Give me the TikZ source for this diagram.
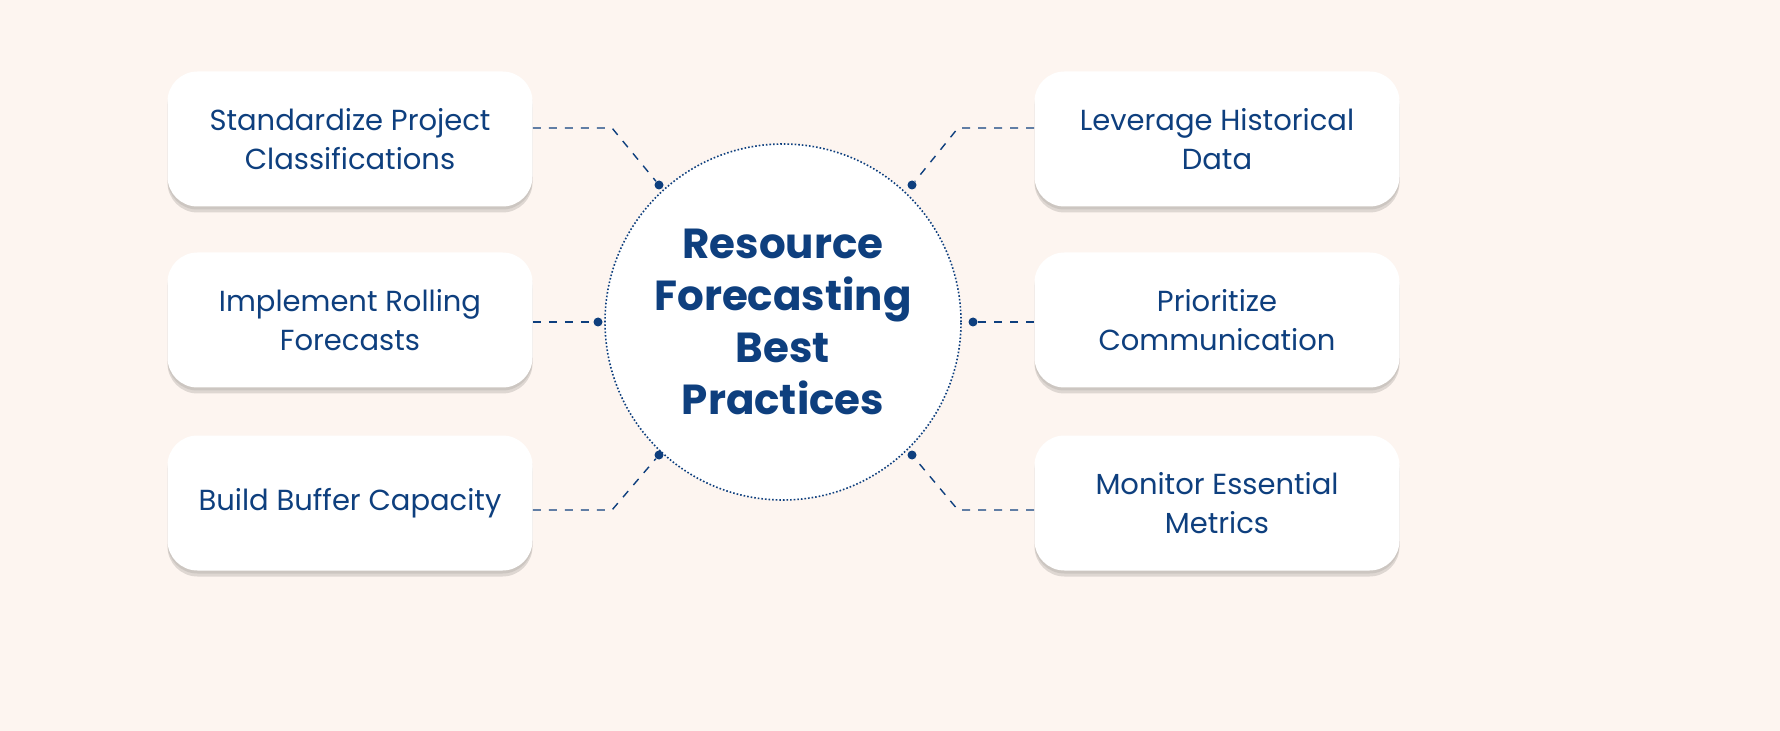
\documentclass[tikz,border=0pt]{standalone}
\usepackage{fontspec}
\setmainfont{Poppins}
\definecolor{colorbg}{HTML}{FDF5F0}
\definecolor{colortext}{HTML}{0E3F7E}
\tikzset{
  itembox/.style={draw=none, fill=white, rounded corners=15pt, minimum width=182.5pt,
    minimum height=67.5pt, align=center, text=colortext, font=\fontsize{14.5}{19.5}\selectfont,
    preaction={fill=black, opacity=0.12, transform canvas={yshift=-3pt}},
    preaction={fill=black, opacity=0.08, transform canvas={yshift=-1.5pt}}},
  link/.style={dashed, dash pattern=on 4pt off 4pt, colortext, line width=0.7pt},
  dot/.style={circle, fill=colortext, inner sep=0pt, minimum size=4.5pt}
}
\begin{document}
\begin{tikzpicture}[x=0.5pt,y=-0.5pt]
  \fill[colorbg] (0,0) rectangle (1780,731);
  \useasboundingbox (0,0) rectangle (1780,731);
  % Centre circle
  \node[circle, draw=colortext, densely dotted, line width=0.8pt, fill=white, minimum size=178pt,
    align=center, text=colortext, font=\fontsize{21}{26}\bfseries\selectfont] (C) at (783,322)
    {Resource\\Forecasting\\Best\\Practices};
  % Boxes
  \node[itembox] (S) at (350,139) {Standardize Project\\Classifications};
  \node[itembox] (I) at (350,320) {Implement Rolling\\Forecasts};
  \node[itembox] (B) at (350,503) {Build Buffer Capacity};
  \node[itembox] (L) at (1217,139) {Leverage Historical\\Data};
  \node[itembox] (P) at (1217,320) {Prioritize\\Communication};
  \node[itembox] (M) at (1217,503) {Monitor Essential\\Metrics};
  % Dots
  \node[dot] (dS) at (659,185) {};
  \node[dot] (dI) at (598,322) {};
  \node[dot] (dB) at (659,455) {};
  \node[dot] (dL) at (912,185) {};
  \node[dot] (dP) at (973,322) {};
  \node[dot] (dM) at (912,455) {};
  % Connectors
  \coordinate (kS) at (612,128);
  \coordinate (kB) at (612,510);
  \coordinate (kL) at (958,128);
  \coordinate (kM) at (958,510);
  \draw[link] (S.east |- kS) -- (kS) -- (dS);
  \draw[link] (I.east |- dI) -- (dI);
  \draw[link] (B.east |- kB) -- (kB) -- (dB);
  \draw[link] (L.west |- kL) -- (kL) -- (dL);
  \draw[link] (P.west |- dP) -- (dP);
  \draw[link] (M.west |- kM) -- (kM) -- (dM);
\end{tikzpicture}
\end{document}
